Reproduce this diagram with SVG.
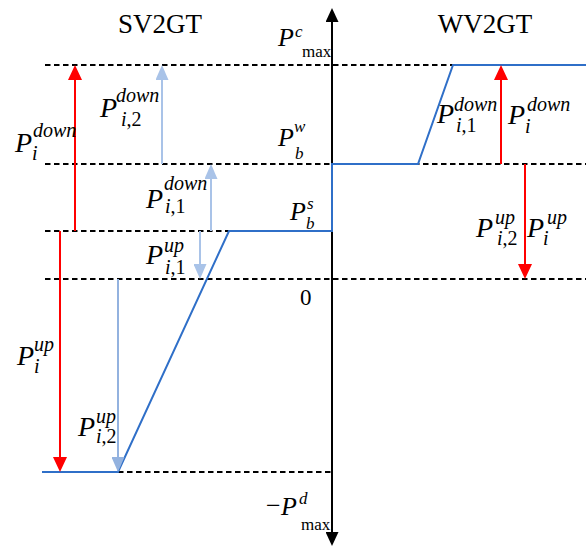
<svg xmlns="http://www.w3.org/2000/svg" width="586" height="547" viewBox="0 0 586 547">
<style>
.dash{stroke:#000;stroke-width:1.8;stroke-dasharray:5.5,3.5;fill:none}
.axis{stroke:#000;stroke-width:2;fill:none}
.curve{stroke:#2f6fc8;stroke-width:2;fill:none;stroke-linejoin:miter}
.red{stroke:#ff0000;stroke-width:2;fill:none}
.lb{stroke:#a9c3e8;stroke-width:2;fill:none}
.lb2{stroke:#93b2df;stroke-width:2;fill:none}
text{font-family:"Liberation Serif","Times New Roman",serif;fill:#000}
.P{font-size:28px;font-style:italic}
.Pa{font-size:26px;font-style:italic}
.s{font-size:20px;font-style:italic}
.sa{font-size:17px;font-style:italic}
.u{font-style:normal}
.title{font-size:27px;text-anchor:middle}
</style>
<defs>
<marker id="hr" markerUnits="userSpaceOnUse" markerWidth="15" markerHeight="14" refX="0" refY="7" orient="auto"><path d="M0,0 L15,7 L0,14 z" fill="#ff0000"/></marker>
<marker id="hb" markerUnits="userSpaceOnUse" markerWidth="15" markerHeight="13" refX="0" refY="6.5" orient="auto"><path d="M0,0 L15,6.5 L0,13 z" fill="#a9c3e8"/></marker>
<marker id="hb2" markerUnits="userSpaceOnUse" markerWidth="15" markerHeight="13" refX="0" refY="6.5" orient="auto"><path d="M0,0 L15,6.5 L0,13 z" fill="#93b2df"/></marker>
<marker id="hk" markerUnits="userSpaceOnUse" markerWidth="14" markerHeight="13" refX="0" refY="6.5" orient="auto"><path d="M0,0 L14,6.5 L0,13 z" fill="#000"/></marker>
</defs>

<g id="guides">
<line class="dash" x1="45" y1="65" x2="586" y2="65"/>
<line class="dash" x1="45" y1="164" x2="586" y2="164"/>
<line class="dash" x1="45" y1="231" x2="229" y2="231"/>
<line class="dash" x1="45" y1="279" x2="586" y2="279"/>
<line class="dash" x1="118" y1="472" x2="332" y2="472"/>
</g>

<g id="axis">
<line class="axis" x1="332" y1="532" x2="332" y2="22" marker-end="url(#hk)"/>
<line class="axis" x1="332" y1="300" x2="332" y2="532" marker-end="url(#hk)"/>
</g>

<g id="curve">
<polyline class="curve" points="42,472 118,472 229,231 332,231 332,164 418,164 453,65 586,65"/>
</g>

<g id="connectors">
<line class="red" x1="75" y1="231" x2="75" y2="80" marker-end="url(#hr)"/>
<line class="red" x1="60" y1="231" x2="60" y2="457" marker-end="url(#hr)"/>
<line class="red" x1="501" y1="164" x2="501" y2="80" marker-end="url(#hr)"/>
<line class="red" x1="525" y1="164" x2="525" y2="264" marker-end="url(#hr)"/>
<line class="lb" x1="162" y1="164" x2="162" y2="80" marker-end="url(#hb)"/>
<line class="lb" x1="211" y1="231" x2="211" y2="179" marker-end="url(#hb)"/>
<line class="lb" x1="200" y1="231" x2="200" y2="264" marker-end="url(#hb)"/>
<line class="lb2" x1="118" y1="279" x2="118" y2="457" marker-end="url(#hb2)"/>
</g>

<g id="titles">
<text class="title" x="160" y="33">SV2GT</text>
<text class="title" x="485" y="33">WV2GT</text>
</g>

<g id="axis-labels">
<text><tspan class="Pa" x="278" y="46">P</tspan><tspan class="sa" x="295" y="37">c</tspan><tspan class="sa u" x="302" y="57">max</tspan></text>
<text><tspan class="Pa" x="278" y="146">P</tspan><tspan class="sa" x="294" y="132">w</tspan><tspan class="sa" x="295" y="159">b</tspan></text>
<text><tspan class="Pa" x="290" y="220">P</tspan><tspan class="sa" x="307" y="209">s</tspan><tspan class="sa" x="306" y="229">b</tspan></text>
<text x="300" y="305" style="font-size:23px">0</text>
<text><tspan style="font-size:26px" x="266" y="514">−</tspan><tspan class="Pa" x="281" y="515">P</tspan><tspan class="sa" x="299" y="504">d</tspan><tspan class="sa u" x="301" y="530">max</tspan></text>
</g>

<g id="labels">
<text><tspan class="P" x="15" y="152">P</tspan><tspan class="s" x="33" y="137">down</tspan><tspan class="s" x="32" y="160">i</tspan></text>
<text><tspan class="P" x="100" y="117">P</tspan><tspan class="s" x="116" y="102">down</tspan><tspan class="s" x="121" y="126">i<tspan class="u">,2</tspan></tspan></text>
<text><tspan class="P" x="146" y="208">P</tspan><tspan class="s" x="164" y="190">down</tspan><tspan class="s" x="165" y="213">i<tspan class="u">,1</tspan></tspan></text>
<text><tspan class="P" x="146" y="264">P</tspan><tspan class="s" x="164" y="252">up</tspan><tspan class="s" x="165" y="274">i<tspan class="u">,1</tspan></tspan></text>
<text><tspan class="P" x="17" y="365">P</tspan><tspan class="s" x="34" y="351">up</tspan><tspan class="s" x="34" y="373">i</tspan></text>
<text><tspan class="P" x="78" y="436">P</tspan><tspan class="s" x="96" y="423">up</tspan><tspan class="s" x="96" y="443">i<tspan class="u">,2</tspan></tspan></text>
<text><tspan class="P" x="437" y="123">P</tspan><tspan class="s" x="454" y="111">down</tspan><tspan class="s" x="456" y="132">i<tspan class="u">,1</tspan></tspan></text>
<text><tspan class="P" x="508" y="124">P</tspan><tspan class="s" x="527" y="111">down</tspan><tspan class="s" x="525" y="133">i</tspan></text>
<text><tspan class="P" x="476" y="237">P</tspan><tspan class="s" x="495" y="224">up</tspan><tspan class="s" x="497" y="245">i<tspan class="u">,2</tspan></tspan></text>
<text><tspan class="P" x="527" y="237">P</tspan><tspan class="s" x="547" y="224">up</tspan><tspan class="s" x="543" y="245">i</tspan></text>
</g>
</svg>
